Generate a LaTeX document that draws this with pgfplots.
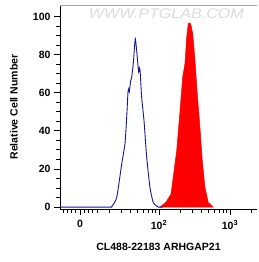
\documentclass[border=0pt]{standalone}
\usepackage{fontspec}
\setmainfont{Liberation Sans}
\usepackage{pgfplots}
\pgfplotsset{compat=1.18}
\definecolor{curveblue}{RGB}{20,20,150}
\begin{document}
\begin{tikzpicture}
\begin{axis}[
  name=main, at={(0,0)}, anchor=south west,
  scale only axis, width=197pt, height=204pt,
  xmin=0.606, xmax=3.38, ymin=-1, ymax=106,
  axis x line*=bottom, axis y line*=left,
  tick align=outside,
  major tick length=6pt, minor tick length=3.5pt,
  every tick/.style={black, line width=0.8pt},
  /pgf/number format/assume math mode=true,
  ticklabel style={font=\fontsize{10.5}{12}\selectfont\bfseries},
  ytick={0,20,40,60,80,100},
  minor y tick num=3,
  xtick={0.887,2,3},
  xticklabels={0,10\textsuperscript{2},10\textsuperscript{3}},
  xticklabel style={yshift=-2pt},
  minor xtick={0.647,0.707,0.767,0.827,0.947,1.007,1.067,1.127,
    1.301,1.477,1.602,1.699,1.778,1.845,1.903,1.954,
    2.301,2.477,2.602,2.699,2.778,2.845,2.903,2.954,3.301},
  xlabel={CL488-22183 ARHGAP21},
  ylabel={Relative Cell Number},
  every axis x label/.style={at={(axis description cs:0.5,-0.186)}, anchor=center, font=\fontsize{10.5}{12}\selectfont\bfseries},
  every axis y label/.style={at={(axis description cs:-0.234,0.5)}, anchor=center, rotate=90, font=\fontsize{10.5}{12}\selectfont\bfseries},
  axis line style={black, line width=0.8pt},
  clip=false,
]
\node[text=black!14, font=\fontsize{14}{14}\selectfont\itshape, xscale=1.15, anchor=center] at (rel axis cs:0.54,0.955) {WWW.PTGLAB.COM};
\draw[gray!70, line width=0.8pt] (rel axis cs:0,1) -- (rel axis cs:1,1);
\addplot[fill=red, draw=red, line width=0.5pt] coordinates {
  (2.014,0) (2.099,2.6) (2.169,6.8) (2.249,29.5) (2.296,50.5) (2.334,68.3)
  (2.366,75.3) (2.390,89.1) (2.413,96.5) (2.446,96.2) (2.475,91) (2.507,77)
  (2.539,59.5) (2.577,41.7) (2.610,24.2) (2.648,10.2) (2.694,2.3) (2.765,0)
} \closedcycle;
\addplot[curveblue, line width=0.9pt, smooth, tension=0.3] coordinates {
  (0.606,0) (1.300,0) (1.334,0.3) (1.404,4.9) (1.475,22.6) (1.521,33.2) (1.545,47)
  (1.563,60.2) (1.572,62) (1.582,60.5) (1.600,66) (1.615,68) (1.638,75.3)
  (1.666,88.3) (1.694,78.6) (1.714,70.7) (1.724,73) (1.735,71)
  (1.756,57.5) (1.789,45.3) (1.827,26) (1.873,10.2) (1.920,2.3) (1.990,0) (2.05,0)
};
\end{axis}
\pgfresetboundingbox
\path[use as bounding box] (-60pt,-53pt) rectangle (198pt,209pt);
\end{tikzpicture}
\end{document}
